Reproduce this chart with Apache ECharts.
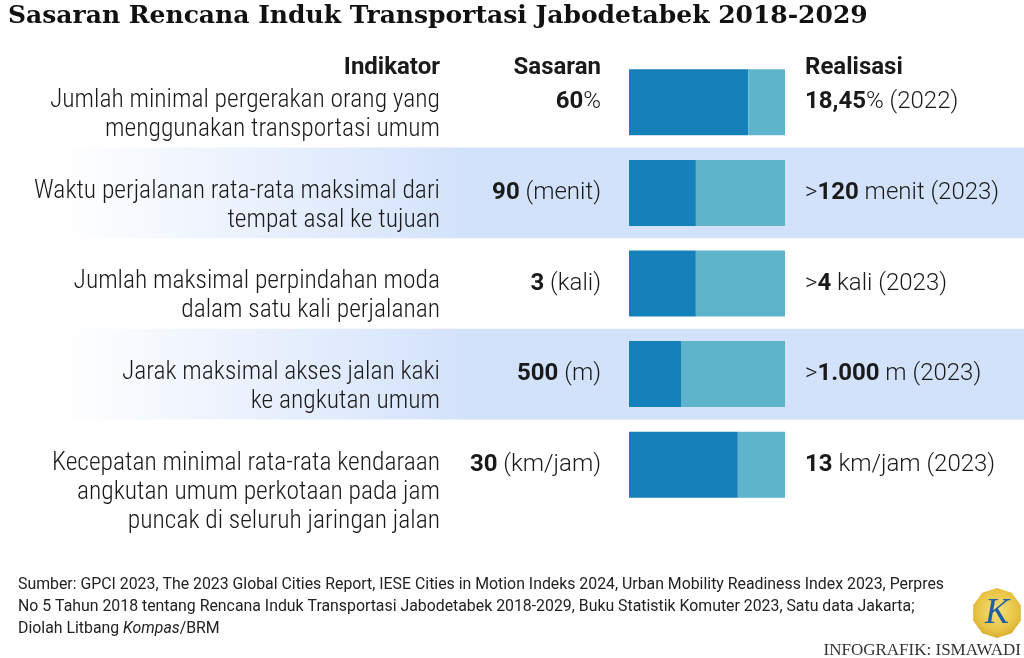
<!DOCTYPE html>
<html>
<head>
<meta charset="utf-8">
<script src="https://cdn.jsdelivr.net/npm/echarts@6.0.0/dist/echarts.min.js"></script>
<style>
html,body{margin:0;padding:0;background:#fff;}
#c{width:1024px;height:658px;}
</style>
</head>
<body>
<div id="c"></div>
<script>
// ---- data ----
const indikator = [
  'Jumlah minimal pergerakan orang yang\nmenggunakan transportasi umum',
  'Waktu perjalanan rata-rata maksimal dari\ntempat asal ke tujuan',
  'Jumlah maksimal perpindahan moda\ndalam satu kali perjalanan',
  'Jarak maksimal akses jalan kaki\nke angkutan umum',
  'Kecepatan minimal rata-rata kendaraan\nangkutan umum perkotaan pada jam\npuncak di seluruh jaringan jalan'
];
const sasaranNilai = [60, 90, 3, 500, 30];
const sasaranTeks = ['60', '90', '3', '500', '30'];
const sasaranSatuan = ['%', ' (menit)', ' (kali)', ' (m)', ' (km/jam)'];
const realisasiNilai = [18.45, 120, 4, 1000, 13];
const realisasiAwalan = ['', '>', '>', '>', ''];
const realisasiTeks = ['18,45', '120', '4', '1.000', '13'];
const realisasiSatuan = ['% (2022)', ' menit (2023)', ' kali (2023)', ' m (2023)', ' km/jam (2023)'];

const sumber = 'Sumber: GPCI 2023, The 2023 Global Cities Report, IESE Cities in Motion Indeks 2024, Urban Mobility Readiness Index 2023, Perpres\nNo 5 Tahun 2018 tentang Rencana Induk Transportasi Jabodetabek 2018-2029, Buku Statistik Komuter 2023, Satu data Jakarta;';

// shares of each pair (target vs realisation) for the 100% bar
const porsiSasaran = sasaranNilai.map((v, i) => v / (v + realisasiNilai[i]) * 100);
const porsiRealisasi = realisasiNilai.map((v, i) => v / (sasaranNilai[i] + v) * 100);

const FONT = "'Roboto Condensed', Roboto, sans-serif";
const FONT2 = "Roboto, sans-serif";
const TXT = '#1a1a1a';
const rich = {
  b: {fontFamily: FONT2, fontWeight: 700, fontSize: 24, color: TXT},
  n: {fontFamily: FONT2, fontWeight: 300, fontSize: 24, color: TXT}
};

const chart = echarts.init(document.getElementById('c'), null, {renderer: 'canvas'});
const bandTop = 57, bandH = 453;

const option = {
  backgroundColor: '#ffffff',
  animation: false,
  grid: [
    {left: 629, width: 156, top: bandTop, height: bandH},
    {left: 629, width: 156, top: bandTop - 16, height: bandH},
    {left: 60, right: 0, top: bandTop, height: bandH}
  ],
  xAxis: [
    {gridIndex: 0, type: 'value', min: 0, max: 100, show: false},
    {gridIndex: 1, type: 'value', min: 0, max: 100, show: false},
    {gridIndex: 2, type: 'value', min: 0, max: 100, show: false}
  ],
  yAxis: [
    {gridIndex: 0, type: 'category', inverse: true, data: indikator, show: false},
    {
      gridIndex: 1, type: 'category', inverse: true, data: indikator,
      axisLine: {show: false}, axisTick: {show: false}, splitLine: {show: false},
      axisLabel: {
        margin: 189, align: 'right', verticalAlign: 'top', interval: 0,
        fontFamily: FONT, fontWeight: 300, fontSize: 25.5, lineHeight: 29, color: TXT
      }
    },
    {
      gridIndex: 2, type: 'category', inverse: true, data: indikator,
      axisLine: {show: false}, axisTick: {show: false}, axisLabel: {show: false},
      splitLine: {show: false},
      splitArea: {
        show: true, interval: 0,
        areaStyle: {
          color: [
            'rgba(255,255,255,0)',
            new echarts.graphic.LinearGradient(0, 0, 1, 0, [
              {offset: 0, color: 'rgba(211,226,251,0)'},
              {offset: 0.42, color: '#d3e2fb'},
              {offset: 1, color: '#d3e2fb'}
            ])
          ]
        }
      }
    }
  ],
  series: [
    {
      type: 'bar', name: 'Sasaran', stack: 'p', xAxisIndex: 0, yAxisIndex: 0,
      data: porsiSasaran, barWidth: 66,
      itemStyle: {color: '#1680ba'},
      label: {
        show: true, position: 'left', distance: 28,
        formatter: p => '{b|' + sasaranTeks[p.dataIndex] + '}{n|' + sasaranSatuan[p.dataIndex] + '}',
        rich: rich
      }
    },
    {
      type: 'bar', name: 'Realisasi', stack: 'p', xAxisIndex: 0, yAxisIndex: 0,
      data: porsiRealisasi, barWidth: 66,
      itemStyle: {color: '#5eb4cb'},
      label: {
        show: true, position: 'right', distance: 20,
        formatter: p => '{n|' + realisasiAwalan[p.dataIndex] + '}{b|' + realisasiTeks[p.dataIndex] + '}{n|' + realisasiSatuan[p.dataIndex] + '}',
        rich: rich
      }
    }
  ],
  graphic: [
    {type: 'text', left: 8, top: 4, style: {text: 'Sasaran Rencana Induk Transportasi Jabodetabek 2018-2029',
      font: "bold 25px 'DejaVu Serif', serif", fill: '#111'}},
    {type: 'text', x: 440, y: 68, style: {text: 'Indikator', align: 'right', verticalAlign: 'middle',
      font: "700 24px " + FONT2, fill: TXT}},
    {type: 'text', x: 601, y: 68, style: {text: 'Sasaran', align: 'right', verticalAlign: 'middle',
      font: "700 24px " + FONT2, fill: TXT}},
    {type: 'text', x: 805, y: 68, style: {text: 'Realisasi', align: 'left', verticalAlign: 'middle',
      font: "700 24px " + FONT2, fill: TXT}},
    {type: 'text', x: 18, y: 574, style: {
      text: sumber + '\n{n|Diolah Litbang }{i|Kompas}{n|/BRM}',
      font: "15.85px " + FONT2, fill: '#222', lineHeight: 22,
      rich: {
        n: {font: "15.85px " + FONT2, fill: '#222', lineHeight: 22},
        i: {font: "italic 15.85px " + FONT2, fill: '#222', lineHeight: 22}
      }
    }},
    {type: 'polygon', shape: {points: (function(){
        const pts = []; const cx = 997, cy = 613, r = 25;
        for (let k = 0; k < 10; k++) { const a = Math.PI * 2 * k / 10 - Math.PI / 2; pts.push([cx + r * Math.cos(a), cy + r * Math.sin(a)]); }
        return pts; })()},
      style: {fill: new echarts.graphic.RadialGradient(0.5, 0.45, 0.6, [
        {offset: 0, color: '#f6df7c'}, {offset: 0.7, color: '#e8c445'}, {offset: 1, color: '#d4a92c'}])}},
    {type: 'text', x: 997, y: 614, style: {text: 'K', align: 'center', verticalAlign: 'middle',
      font: "italic 36px 'Liberation Serif', serif", fill: '#1f5fa6'}},
    {type: 'text', x: 1021, y: 651, style: {text: 'INFOGRAFIK: ISMAWADI', align: 'right', verticalAlign: 'middle',
      font: "17px 'Liberation Serif', serif", fill: '#333'}}
  ]
};
chart.setOption(option);
</script>
</body>
</html>
